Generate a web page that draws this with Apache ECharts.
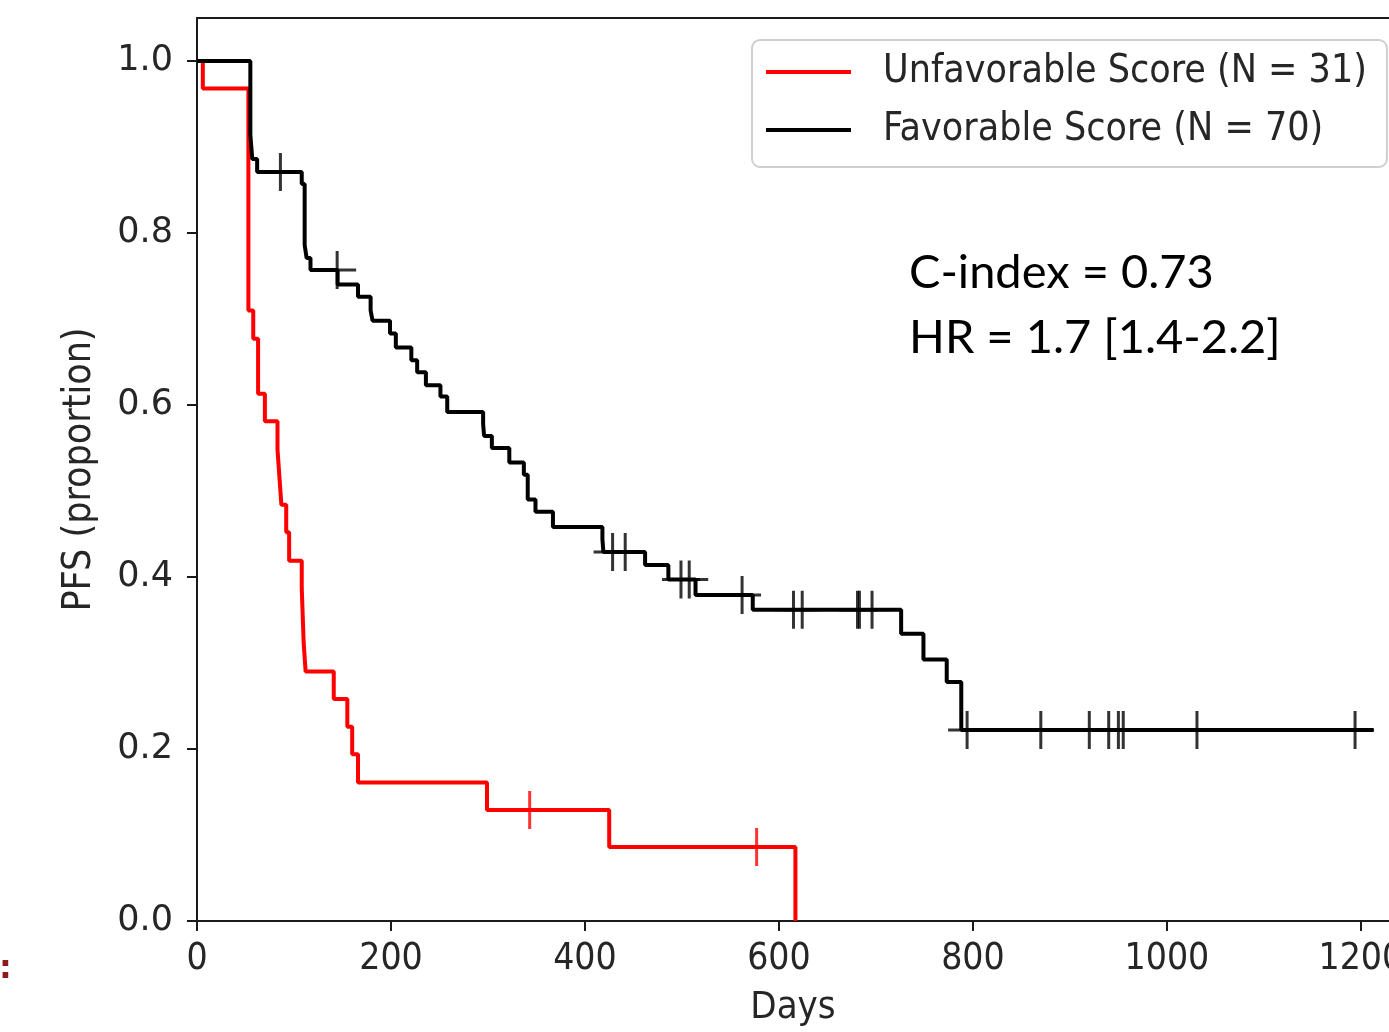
<!DOCTYPE html>
<html>
<head>
<meta charset="utf-8">
<title>PFS Kaplan-Meier</title>
<script src="https://cdn.jsdelivr.net/npm/echarts@6/dist/echarts.min.js"></script>
<style>
html, body { margin: 0; padding: 0; background: #fff; }
#chart { width: 1389px; height: 1032px; }
</style>
</head>
<body>
<div id="chart"></div>
<script>
// Unfavorable score: event times (days) and survival after each step
var redDays = [0, 6, 53, 58, 63, 70, 83, 85, 87, 92, 95, 108, 110, 112, 141, 155, 160, 166, 299, 425, 617];
var redSurv = [1.0, 0.968, 0.710, 0.677, 0.613, 0.581, 0.548, 0.516, 0.484, 0.452, 0.419, 0.387, 0.323, 0.290, 0.258, 0.226, 0.194, 0.161, 0.129, 0.086, 0.0];
var redCensor = [343, 577];

// Favorable score
var blackDays = [0, 55, 57, 62, 108, 111, 113, 117, 145, 166, 179, 181, 199, 205, 221, 227, 236, 251, 258, 295,
    296, 304, 322, 337, 341, 349, 367, 418, 419, 462, 486, 514, 573, 726, 749, 773, 788, 1213];
var blackSurv = [1.0, 0.914, 0.886, 0.871, 0.857, 0.786, 0.771, 0.757, 0.740, 0.726, 0.710, 0.698, 0.683, 0.667, 0.652, 0.638, 0.623, 0.610, 0.592, 0.578,
    0.564, 0.550, 0.533, 0.519, 0.490, 0.476, 0.458, 0.444, 0.429, 0.414, 0.397, 0.379, 0.362, 0.334, 0.304, 0.278, 0.222, 0.222];
var blackCensor = [86, 144.5, 428.5, 441.5, 499, 507.5, 562, 615, 624, 681, 683, 696, 794, 870, 920, 940, 950, 955, 1031, 1194];

var xTicks = [0, 200, 400, 600, 800, 1000, 1200];
var yTicks = [0, 0.2, 0.4, 0.6, 0.8, 1.0];
var seriesNames = ['Unfavorable Score (N = 31)', 'Favorable Score (N = 70)'];

// plus-shaped censor mark
var plusPath = 'path://M17.5,0 h3 v17.5 h17.5 v3 h-17.5 v17.5 h-3 v-17.5 h-17.5 v-3 h17.5 z';

function pairs(days, surv) {
    var out = [];
    for (var i = 0; i < days.length; i++) {
        out.push([days[i], surv[i]]);
    }
    return out;
}
// value of the step curve at time t
function survAt(days, surv, t) {
    var v = surv[0];
    for (var i = 0; i < days.length; i++) {
        if (days[i] <= t) v = surv[i];
    }
    return v;
}
function censorPts(censor, days, surv) {
    return censor.map(function(t) {
        return [t, survAt(days, surv, t)];
    });
}

var chart = echarts.init(document.getElementById('chart'));
var labelColor = '#262626';
var axisColor = '#1a1a1a';
var condFont = 'DejaVu Sans Condensed';
var option = {
    backgroundColor : '#fff',
    animation : false,
    grid : {
        left : 197,
        right : 0,
        top : 18,
        bottom : 111,
        outerBoundsMode : 'none',
        containLabel : false
    },
    legend : {
        data : seriesNames,
        orient : 'vertical',
        left : 752,
        top : 40,
        padding : [10, 20, 15, 14],
        itemWidth : 85,
        itemHeight : 4,
        itemGap : 14,
        icon : 'rect',
        backgroundColor : '#fff',
        borderColor : '#cfcfcf',
        borderWidth : 2,
        borderRadius : 8,
        textStyle : {
            fontFamily : condFont,
            fontSize : 39,
            lineHeight : 44,
            color : labelColor,
            padding : [0, 0, 0, 27]
        }
    },
    xAxis : [ {
        type : 'value',
        min : 0,
        max : 1229,
        name : 'Days',
        nameLocation : 'middle',
        nameGap : 68,
        nameTextStyle : {
            fontFamily : condFont,
            fontSize : 38,
            color : labelColor
        },
        splitLine : { show : false },
        axisLine : { lineStyle : { color : axisColor, width : 2 } },
        axisTick : { customValues : xTicks, length : 10, lineStyle : { color : axisColor, width : 2 } },
        axisLabel : {
            customValues : xTicks,
            margin : 20,
            fontFamily : condFont,
            fontSize : 37,
            color : labelColor,
            formatter : function(v) {
                return String(v);
            }
        }
    }, {
        type : 'value',
        position : 'top',
        min : 0,
        max : 1229,
        splitLine : { show : false },
        axisLine : { show : true, lineStyle : { color : axisColor, width : 2 } },
        axisTick : { show : false },
        axisLabel : { show : false }
    } ],
    yAxis : {
        type : 'value',
        min : 0,
        max : 1.05,
        name : 'PFS (proportion)',
        nameLocation : 'middle',
        nameGap : 98,
        nameTextStyle : {
            fontFamily : condFont,
            fontSize : 39,
            color : labelColor
        },
        splitLine : { show : false },
        axisLine : { show : true, lineStyle : { color : axisColor, width : 2 } },
        axisTick : { show : true, customValues : yTicks, length : 10, lineStyle : { color : axisColor, width : 2 } },
        axisLabel : {
            customValues : yTicks,
            margin : 24,
            fontFamily : 'DejaVu Sans',
            fontSize : 35,
            color : labelColor,
            formatter : function(v) {
                return v.toFixed(1);
            }
        }
    },
    graphic : [ {
        type : 'text',
        left : 909,
        top : 249,
        style : { text : 'C-index = 0.73', font : '47px Lato', fill : '#000' }
    }, {
        type : 'text',
        left : 909,
        top : 314,
        style : { text : 'HR = 1.7 [1.4-2.2]', font : '47px Lato', fill : '#000' }
    }, {
        type : 'text',
        left : -1,
        top : 954,
        style : { text : ':', font : 'bold 32px DejaVu Sans', fill : '#8b1a1a' }
    } ],
    series : [ {
        name : seriesNames[0],
        type : 'line',
        step : 'end',
        symbol : 'none',
        color : '#ff0000',
        lineStyle : { width : 4, color : '#ff0000' },
        data : pairs(redDays, redSurv),
        z : 3
    }, {
        name : seriesNames[1],
        type : 'line',
        step : 'end',
        symbol : 'none',
        color : '#000000',
        lineStyle : { width : 4, color : '#000000' },
        data : pairs(blackDays, blackSurv),
        z : 4
    }, {
        name : 'red censored',
        type : 'scatter',
        symbol : plusPath,
        symbolSize : [38, 38],
        itemStyle : { color : '#ff0000' },
        data : censorPts(redCensor, redDays, redSurv),
        silent : true,
        z : 5
    }, {
        name : 'black censored',
        type : 'scatter',
        symbol : plusPath,
        symbolSize : [38, 38],
        itemStyle : { color : '#000000' },
        data : censorPts(blackCensor, blackDays, blackSurv),
        silent : true,
        z : 5
    } ]
};
chart.setOption(option);
</script>
</body>
</html>
